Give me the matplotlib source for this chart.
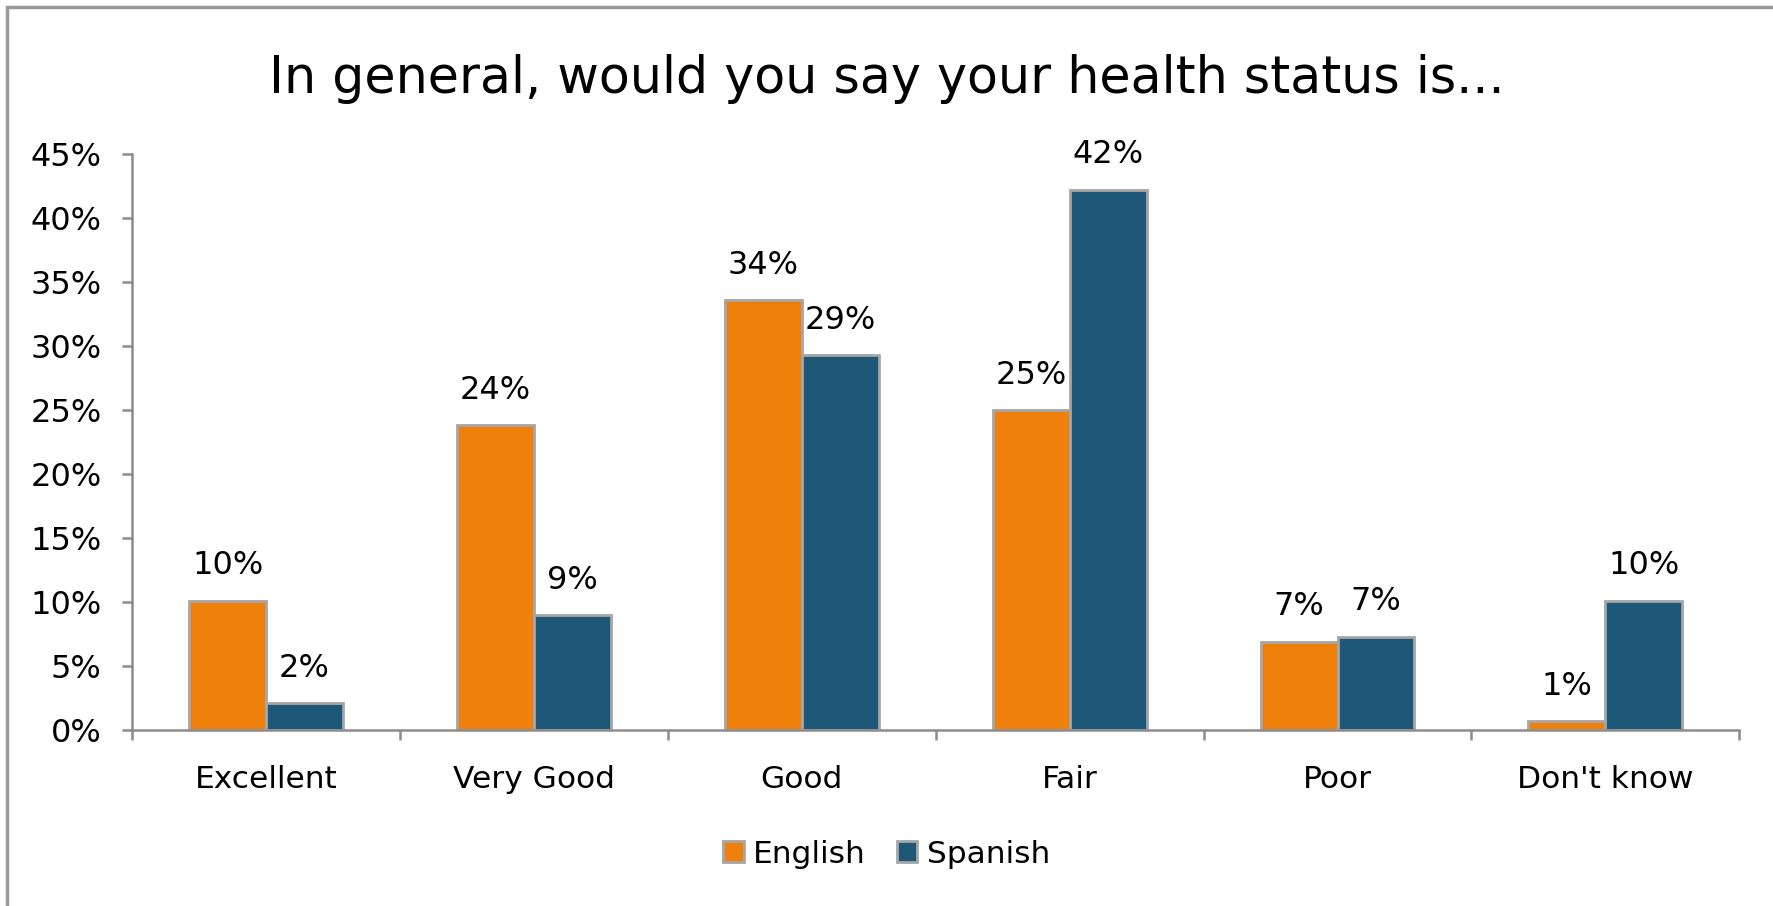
import matplotlib.pyplot as plt
import numpy as np
from matplotlib.patches import Rectangle

categories = ["Excellent", "Very Good", "Good", "Fair", "Poor", "Don't know"]
english = [10.1, 23.8, 33.6, 25.0, 6.9, 0.7]
spanish = [2.1, 9.0, 29.3, 42.2, 7.3, 10.1]
series_names = ["English", "Spanish"]
yticks = [0, 5, 10, 15, 20, 25, 30, 35, 40, 45]

orange = "#F0800C"
blue = "#1E5879"
edge = "#A6A6A6"
axis_gray = "#8C8C8C"

plt.rcParams['font.family'] = ['DejaVu Sans']

fig = plt.figure(figsize=(17.73, 9.06), dpi=100)
ax = fig.add_axes([0.0745, 0.194, 0.9065, 0.636])

x = np.arange(len(categories))
w = 0.287
b1 = ax.bar(x - w / 2, english, w, color=orange, edgecolor=edge, linewidth=2, label=series_names[0])
b2 = ax.bar(x + w / 2, spanish, w, color=blue, edgecolor=edge, linewidth=2, label=series_names[1])

# value labels above each bar
for bars, vals in ((b1, english), (b2, spanish)):
    for r, v in zip(bars, vals):
        ax.annotate(f"{v:.0f}%", (r.get_x() + r.get_width() / 2, v),
                    xytext=(0, 14), textcoords="offset points",
                    ha="center", va="bottom", fontsize=23)

ax.set_xlim(-0.5, len(categories) - 0.5)
ax.set_ylim(0, 45)
ax.set_yticks(yticks)
ax.set_yticklabels([f"{t}%" for t in yticks], fontsize=23)
ax.set_xticks(x)
ax.set_xticklabels(categories, fontsize=22.5)
ax.set_xticks(np.arange(len(categories) + 1) - 0.5, minor=True)
ax.tick_params(axis="x", which="major", length=0, pad=25)
ax.tick_params(axis="x", which="minor", length=7, width=1.8, color=axis_gray)
ax.tick_params(axis="y", length=7, width=1.8, color=axis_gray, pad=15)
for s in ("top", "right"):
    ax.spines[s].set_visible(False)
for s in ("left", "bottom"):
    ax.spines[s].set_color(axis_gray)
    ax.spines[s].set_linewidth(1.8)

fig.text(0.5, 0.913, "In general, would you say your health status is...",
         ha="center", va="center", fontsize=36.5)

ax.legend(loc="center", bbox_to_anchor=(0.5, 0.057), bbox_transform=fig.transFigure,
          ncol=2, frameon=False, fontsize=22.5, handlelength=0.65, handleheight=0.65,
          handletextpad=0.3, columnspacing=1.0)

# outer chart border (only top and left edges fall inside the image)
fig.patches.append(Rectangle((0.004, -0.1), 1.2, 1.092, transform=fig.transFigure,
                             fill=False, edgecolor="#999999", linewidth=2.5))

fig.savefig("out.png", dpi=100)
